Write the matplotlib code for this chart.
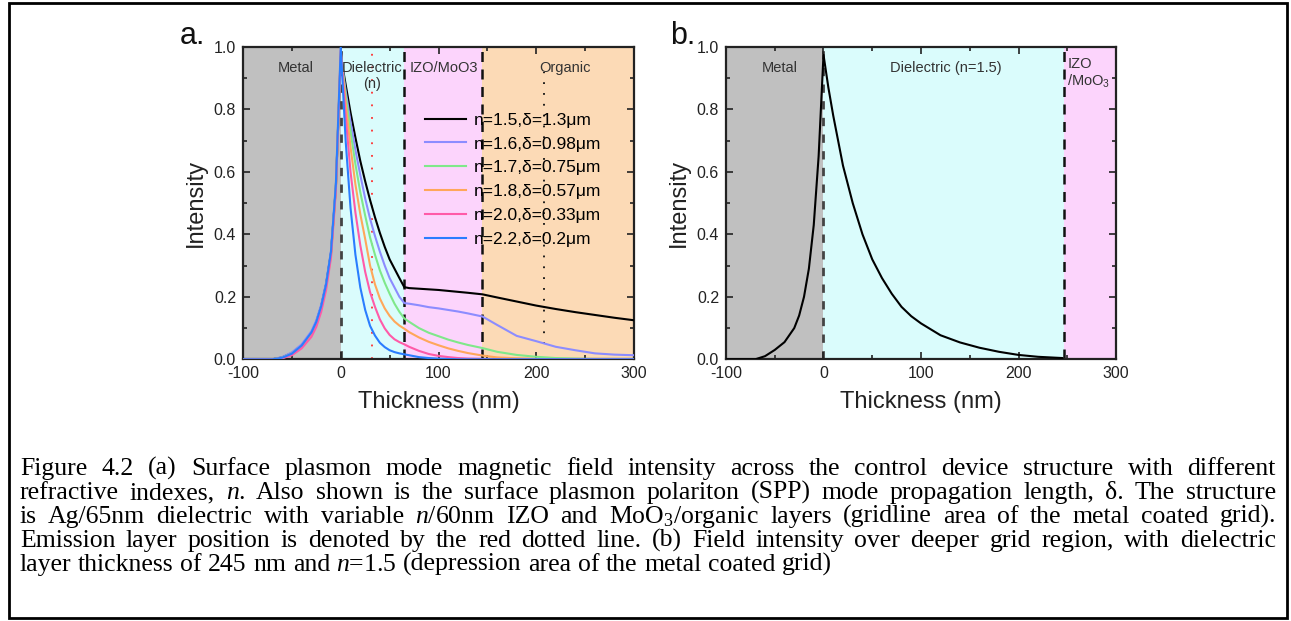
import matplotlib
matplotlib.use("Agg")
import matplotlib.pyplot as plt
from matplotlib.lines import Line2D
from matplotlib.ticker import MultipleLocator

plt.rcParams['font.family'] = ['Liberation Sans', 'DejaVu Sans']
plt.rcParams['mathtext.fontset'] = 'custom'
plt.rcParams['mathtext.rm'] = 'Liberation Serif'
plt.rcParams['mathtext.it'] = 'Liberation Serif:italic'

# ---------------- data: panel a ----------------
thick_a = [-100, -70, -60, -50, -40, -30, -25, -20, -15, -10, -5,
           0, 5, 10, 15, 20, 25, 30, 35, 40, 45, 50, 55, 60, 65,
           70, 80, 90, 100, 110, 120, 130, 145, 160, 180, 200, 220, 240, 260, 280, 300]

int_n15 = [0, 0, 0.006, 0.02, 0.045, 0.085, 0.12, 0.17, 0.24, 0.34, 0.55,
           0.97, 0.88, 0.79, 0.71, 0.635, 0.57, 0.51, 0.455, 0.405, 0.36, 0.32, 0.29, 0.26, 0.231,
           0.228, 0.226, 0.224, 0.222, 0.219, 0.216, 0.213, 0.208, 0.198, 0.185, 0.172, 0.161, 0.151, 0.142, 0.133, 0.125]
int_n16 = [0, 0, 0.007, 0.022, 0.048, 0.09, 0.125, 0.175, 0.245, 0.345, 0.555,
           0.975, 0.86, 0.76, 0.67, 0.59, 0.515, 0.45, 0.395, 0.345, 0.30, 0.26, 0.23, 0.20, 0.18,
           0.178, 0.173, 0.167, 0.163, 0.158, 0.153, 0.147, 0.137, 0.11, 0.075, 0.058, 0.04, 0.029, 0.019, 0.015, 0.013]
int_n17 = [0, 0, 0.005, 0.018, 0.042, 0.082, 0.115, 0.165, 0.235, 0.335, 0.55,
           0.98, 0.845, 0.73, 0.625, 0.535, 0.46, 0.39, 0.335, 0.285, 0.245, 0.21, 0.178, 0.152, 0.131,
           0.12, 0.10, 0.085, 0.074, 0.063, 0.054, 0.046, 0.036, 0.024, 0.014, 0.008, 0.004, 0.002, 0.001, 0.001, 0.001]
int_n18 = [0, 0, 0.004, 0.016, 0.04, 0.078, 0.11, 0.16, 0.23, 0.33, 0.545,
           0.985, 0.82, 0.68, 0.56, 0.465, 0.385, 0.30, 0.24, 0.195, 0.163, 0.139, 0.121, 0.108, 0.098,
           0.087, 0.07, 0.056, 0.045, 0.035, 0.027, 0.02, 0.012, 0.006, 0.003, 0.001, 0, 0, 0, 0, 0]
int_n20 = [0, 0, 0.003, 0.013, 0.035, 0.072, 0.104, 0.152, 0.222, 0.325, 0.54,
           0.99, 0.78, 0.60, 0.47, 0.365, 0.28, 0.215, 0.168, 0.128, 0.099, 0.078, 0.064, 0.055, 0.048,
           0.04, 0.027, 0.017, 0.011, 0.007, 0.004, 0.002, 0.001, 0, 0, 0, 0, 0, 0, 0, 0]
int_n22 = [0, 0, 0.005, 0.018, 0.044, 0.086, 0.12, 0.17, 0.24, 0.345, 0.56,
           1.0, 0.70, 0.485, 0.335, 0.23, 0.158, 0.107, 0.076, 0.053, 0.039, 0.029, 0.023, 0.019, 0.016,
           0.013, 0.007, 0.004, 0.002, 0.001, 0, 0, 0, 0, 0, 0, 0, 0, 0, 0, 0]

series_labels = ["n=1.5,δ=1.3μm", "n=1.6,δ=0.98μm", "n=1.7,δ=0.75μm",
                 "n=1.8,δ=0.57μm", "n=2.0,δ=0.33μm", "n=2.2,δ=0.2μm"]
series_colors = ["#000000", "#8c8cff", "#7fe88a", "#ffa75a", "#ff5aa8", "#2a7dff"]

# layer boundaries (nm)
bounds_a = [0, 65, 145]
emission_pos = 32
organic_mark = 208

# ---------------- data: panel b ----------------
thick_b = [-100, -70, -60, -50, -40, -30, -25, -20, -15, -10, -5,
           0, 5, 10, 20, 30, 40, 50, 60, 70, 80, 90, 100, 120, 140, 160, 180, 200, 220, 245]
int_b = [0, 0, 0.01, 0.03, 0.055, 0.10, 0.14, 0.20, 0.29, 0.43, 0.65,
         0.975, 0.87, 0.78, 0.62, 0.50, 0.40, 0.32, 0.26, 0.21, 0.168, 0.138, 0.115, 0.077,
         0.054, 0.037, 0.024, 0.014, 0.008, 0.004]
bounds_b = [0, 247]

xticks = [-100, 0, 100, 200, 300]
yticks = [0.0, 0.2, 0.4, 0.6, 0.8, 1.0]

C_METAL = "#c0c0c0"
C_DIEL = "#dafcfc"
C_IZO = "#fcd4fc"
C_ORG = "#fcdab6"

W, H = 1291, 621
fig = plt.figure(figsize=(W / 100, H / 100), dpi=100)

def fx(px):
    return px / W

def fy(py):
    return 1 - py / H

axA = fig.add_axes([fx(243), fy(359.3), fx(634) - fx(243), fy(47) - fy(359.3)])
axB = fig.add_axes([fx(726), fy(359.3), fx(1116) - fx(726), fy(47) - fy(359.3)])

def style_axes(ax):
    ax.set_xlim(-100, 300)
    ax.set_ylim(0, 1.0)
    ax.set_xticks(xticks)
    ax.set_yticks(yticks)
    ax.set_xticklabels([str(v) for v in xticks])
    ax.set_yticklabels([f"{v:.1f}" for v in yticks])
    ax.xaxis.set_minor_locator(MultipleLocator(50))
    ax.yaxis.set_minor_locator(MultipleLocator(0.1))
    ax.tick_params(which='both', direction='in', top=True, right=True, labelsize=11.5,
                   colors='#222222', width=1.2)
    ax.tick_params(which='major', length=5, pad=5)
    ax.tick_params(which='minor', length=3)
    for s in ax.spines.values():
        s.set_linewidth(1.6)
        s.set_color('#222222')
    ax.set_xlabel("Thickness (nm)", fontsize=17, labelpad=7, color='#222222')
    ax.set_ylabel("Intensity", fontsize=17, labelpad=5, color='#222222')

# ---- panel a ----
axA.axvspan(-100, bounds_a[0], color=C_METAL, lw=0, zorder=0)
axA.axvspan(bounds_a[0], bounds_a[1], color=C_DIEL, lw=0, zorder=0)
axA.axvspan(bounds_a[1], bounds_a[2], color=C_IZO, lw=0, zorder=0)
axA.axvspan(bounds_a[2], 300, color=C_ORG, lw=0, zorder=0)
axA.axvline(bounds_a[0], color='#444444', ls=(0, (3, 3)), lw=2, zorder=1)
for b in bounds_a[1:]:
    axA.axvline(b, color='#111111', ls=(0, (4, 3)), lw=1.8, zorder=1)
axA.plot([emission_pos, emission_pos], [0, 0.99], color='#ff3030', ls=(0, (1, 6)), lw=1.3, zorder=2)
axA.plot([organic_mark, organic_mark], [0.05, 0.92], color='#111111', ls=(0, (1, 5)), lw=1.3, zorder=2)

series = [int_n15, int_n16, int_n17, int_n18, int_n20, int_n22]
handles = []
for vals, col, lab in zip(series, series_colors, series_labels):
    axA.plot(thick_a, vals, color=col, lw=1.5, zorder=3)
    handles.append(Line2D([], [], color=col, lw=1.5))
axA.legend(handles, series_labels, loc='upper left', bbox_to_anchor=(0.465, 0.79),
           frameon=False, fontsize=12.5, handlelength=2.4, labelspacing=0.5,
           handletextpad=0.45, borderaxespad=0, borderpad=0)

lab_kw = dict(fontsize=10.5, color='#333333', ha='center', va='center', zorder=4)
axA.text(-46, 0.934, "Metal", **lab_kw)
axA.text(32, 0.934, "Dielectric", **lab_kw)
axA.text(32, 0.882, "(n)", **lab_kw)
axA.text(105, 0.934, "IZO/MoO3", **lab_kw)
axA.text(229, 0.934, "Organic", **lab_kw)
style_axes(axA)

# ---- panel b ----
axB.axvspan(-100, bounds_b[0], color=C_METAL, lw=0, zorder=0)
axB.axvspan(bounds_b[0], bounds_b[1], color=C_DIEL, lw=0, zorder=0)
axB.axvspan(bounds_b[1], 300, color=C_IZO, lw=0, zorder=0)
axB.axvline(bounds_b[0], color='#444444', ls=(0, (3, 3)), lw=2, zorder=1)
axB.axvline(bounds_b[1], color='#111111', ls=(0, (4, 3)), lw=1.8, zorder=1)
axB.plot(thick_b, int_b, color='black', lw=1.5, zorder=3)
axB.text(-45, 0.934, "Metal", **lab_kw)
axB.text(125, 0.934, "Dielectric (n=1.5)", **lab_kw)
axB.text(250, 0.945, "IZO", fontsize=10.5, color='#333333', ha='left', va='center')
axB.text(250, 0.89, "/MoO$_{\\mathregular{3}}$", fontsize=10.5, color='#333333', ha='left', va='center')
style_axes(axB)

fig.text(fx(192), fy(36), "a.", fontsize=22, ha='center', va='center', color='#111111')
fig.text(fx(683), fy(36), "b.", fontsize=22, ha='center', va='center', color='#111111')

# ---- border ----
fig.patches.append(plt.Rectangle((fx(8.5), fy(618)), fx(1287) - fx(8.5), fy(3) - fy(618),
                                 transform=fig.transFigure, fill=False, lw=2, ec='black'))

# ---- caption (justified) ----
cap_lines = [
    "Figure 4.2 (a) Surface plasmon mode magnetic field intensity across the control device structure with different",
    "refractive indexes, $\\mathit{n}$. Also shown is the surface plasmon polariton (SPP) mode propagation length, δ. The structure",
    "is Ag/65nm dielectric with variable $\\mathit{n}$/60nm IZO and MoO$_{3}$/organic layers (gridline area of the metal coated grid).",
    "Emission layer position is denoted by the red dotted line. (b) Field intensity over deeper grid region, with dielectric",
    "layer thickness of 245 nm and $\\mathit{n}$=1.5 (depression area of the metal coated grid)",
]
cap_base = [475, 499, 523, 547, 571]
cap_left, cap_right = 20, 1276
cap_fs = 18.5
renderer = fig.canvas.get_renderer()
t1 = fig.text(0, 0, "a b", fontsize=cap_fs, family='Liberation Serif')
t2 = fig.text(0, 0, "ab", fontsize=cap_fs, family='Liberation Serif')
sp = t1.get_window_extent(renderer=renderer).width - t2.get_window_extent(renderer=renderer).width
t1.remove()
t2.remove()
for i, (line, yb) in enumerate(zip(cap_lines, cap_base)):
    words = line.split(" ")
    texts = []
    widths = []
    for w in words:
        t = fig.text(0, fy(yb), w, fontsize=cap_fs, family='Liberation Serif', va='baseline', ha='left')
        bb = t.get_window_extent(renderer=renderer)
        texts.append(t)
        widths.append(bb.width)
    if i < len(cap_lines) - 1:
        gap = (cap_right - cap_left - sum(widths)) / (len(words) - 1)
    else:
        gap = sp
    x = cap_left
    for t, wd in zip(texts, widths):
        t.set_x(fx(x))
        x += wd + gap

fig.savefig("out.png", dpi=100)
